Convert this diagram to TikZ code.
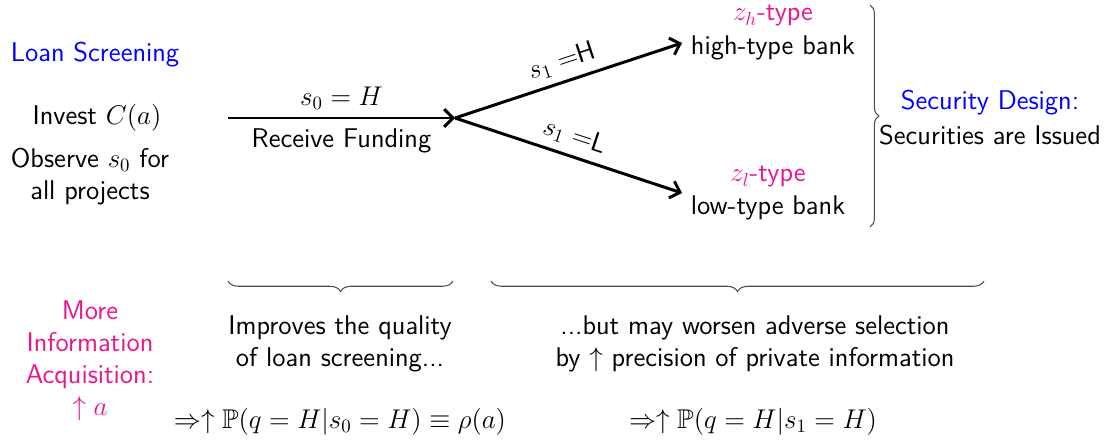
\documentclass[tikz,border=0pt]{standalone}
\usepackage{amsmath}
\usepackage{amssymb}
\usepackage{tikz}
\usetikzlibrary{arrows.meta, positioning, decorations.pathreplacing}
\definecolor{infopink}{RGB}{235,20,140}

\begin{document}
\begin{tikzpicture}[
        x=0.02cm, y=0.02cm,
        font=\sffamily\fontsize{14.4}{17}\selectfont,
        flow/.style={line width=1.7pt, -{Straight Barb[length=5pt, width=10pt, line width=1.7pt]}},
        txt/.style={align=center, inner sep=1pt, scale=1.07},
        title/.style={txt, text=blue},
        hint/.style={txt, text=infopink},
        bracket/.style={decorate, decoration={brace, amplitude=6pt}, gray!60!black, semithick}
    ]
        \useasboundingbox (0,0) rectangle (1109,-442);

        % Loan screening stage
        \node[title] (screen) at (95,-55) {Loan Screening};
        \node[txt] (invest) at (97,-118) {Invest $C(a)$};
        \node[txt] (observe) at (90,-177) {Observe $s_0$ for\\ all projects};

        % Funding arrow
        \coordinate (start) at (228,-118);
        \coordinate (fork) at (455,-118);
        \draw[flow] (start) -- (fork)
            node[midway, above=3pt, txt] (sig0) {$s_0 = H$}
            node[midway, below=4pt, txt] (fund) {Receive Funding};

        % Bank types
        \node[hint] (hightype) at (773,-16) {$z_h$-type};
        \node[txt] (highbank) at (773,-48) {high-type bank};
        \node[hint] (lowtype) at (768,-177) {$z_l$-type};
        \node[txt] (lowbank) at (768,-208) {low-type bank};
        \coordinate (hightip) at (682,-43);
        \coordinate (lowtip) at (682,-193);

        % Branches on s_1
        \draw[flow] (fork) -- (hightip) node[pos=0.5, sloped, above=3pt, txt] (sigH) {$s_1 =$H};
        \draw[flow] (fork) -- (lowtip) node[pos=0.5, sloped, above=3pt, txt] (sigL) {$s_1 =$L};

        % Security design
        \coordinate (bracetop) at (870,-5);
        \coordinate (bracebot) at (870,-227);
        \draw[bracket, decoration={amplitude=5pt}] (bracetop) -- (bracebot);
        \node[title] (design) at (990,-103) {Security Design:};
        \node[txt] (issued) at (990,-135) {Securities are Issued};

        % Effects below
        \coordinate (bl1) at (228,-281);
        \coordinate (br1) at (453,-281);
        \coordinate (bl2) at (491,-281);
        \coordinate (br2) at (984,-281);
        \draw[bracket] (br1) -- (bl1);
        \draw[bracket] (br2) -- (bl2);

        \node[hint] (more) at (90,-361) {More\\ Information\\ Acquisition:\\ $\uparrow a$};
        \node[txt] (improve) at (340,-344) {Improves the quality\\ of loan screening...};
        \node[txt] (worsen) at (755,-344) {...but may worsen adverse selection\\ by $\uparrow$ precision of private information};
        \node[txt] (rho) at (340,-422) {$\Rightarrow\uparrow \mathbb{P}(q=H|s_0=H)\equiv\rho(a)$};
        \node[txt] (prec) at (753,-422) {$\Rightarrow\uparrow \mathbb{P}(q=H|s_1=H)$};

    \end{tikzpicture}
\end{document}
